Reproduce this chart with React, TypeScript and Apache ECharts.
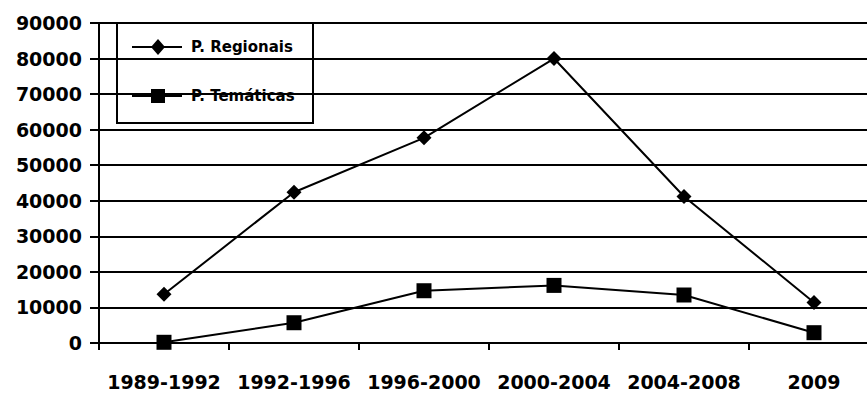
import React, { useEffect, useRef } from "react";
import * as echarts from "echarts";

// Periods on the horizontal axis
const periods = ["1989-1992", "1992-1996", "1996-2000", "2000-2004", "2004-2008", "2009"];
// Series names and values
const seriesNames = ["P. Regionais", "P. Temáticas"];
const regionais = [13700, 42400, 57700, 80000, 41200, 11400];
const tematicas = [200, 5700, 14700, 16200, 13500, 2900];
// Value axis range
const yMin = 0;
const yMax = 90000;
const yStep = 10000;

const FONT = "DejaVu Sans";

// Legend box drawn as graphic elements: a framed box with line + marker swatches
function buildLegend() {
  const boxX = 117;
  const boxY = 23;
  const lineX0 = 132;
  const lineX1 = 182;
  const markX = 158;
  const textX = 191;
  const rows = [47, 96];
  const textStyle = {
    fill: "#000000",
    font: `bold 15px "${FONT}"`,
    textVerticalAlign: "middle",
    verticalAlign: "middle",
  };
  const lineStyle = { stroke: "#000000", lineWidth: 2 };
  return {
    type: "group",
    z: 100,
    children: [
      {
        type: "rect",
        shape: { x: boxX, y: boxY, width: 196, height: 100 },
        style: { fill: "#ffffff", stroke: "#000000", lineWidth: 2 },
      },
      {
        type: "line",
        shape: { x1: lineX0, y1: rows[0], x2: lineX1, y2: rows[0] },
        style: lineStyle,
      },
      {
        type: "polygon",
        shape: {
          points: [
            [markX, rows[0] - 8],
            [markX + 7, rows[0]],
            [markX, rows[0] + 8],
            [markX - 7, rows[0]],
          ],
        },
        style: { fill: "#000000" },
      },
      {
        type: "text",
        x: textX,
        y: rows[0],
        style: { ...textStyle, text: seriesNames[0] },
      },
      {
        type: "line",
        shape: { x1: lineX0, y1: rows[1], x2: lineX1, y2: rows[1] },
        style: lineStyle,
      },
      {
        type: "rect",
        shape: { x: markX - 7, y: rows[1] - 7, width: 14, height: 14 },
        style: { fill: "#000000" },
      },
      {
        type: "text",
        x: textX,
        y: rows[1],
        style: { ...textStyle, text: seriesNames[1] },
      },
    ],
  };
}

export default function App() {
  const ref = useRef<HTMLDivElement>(null);

  useEffect(() => {
    if (!ref.current) return;
    const chart = echarts.init(ref.current, undefined, { renderer: "svg" });
    chart.setOption({
      animation: false,
      backgroundColor: "#ffffff",
      grid: {
        left: 99,
        top: 23,
        width: 780,
        height: 320,
        containLabel: false,
        outerBoundsMode: "none",
      },
      graphic: [buildLegend()],
      xAxis: {
        type: "category",
        data: periods,
        boundaryGap: true,
        axisLine: { show: true, lineStyle: { color: "#000000", width: 2 } },
        axisTick: { show: true, length: 7, lineStyle: { color: "#000000", width: 2 } },
        axisLabel: {
          fontFamily: FONT,
          fontWeight: "bold",
          fontSize: 19,
          color: "#000000",
          margin: 29,
          interval: 0,
        },
        splitLine: { show: false },
      },
      yAxis: {
        type: "value",
        min: yMin,
        max: yMax,
        interval: yStep,
        axisLine: { show: true, lineStyle: { color: "#000000", width: 2 } },
        axisTick: { show: true, length: 9, lineStyle: { color: "#000000", width: 2 } },
        axisLabel: {
          fontFamily: FONT,
          fontWeight: "bold",
          fontSize: 19,
          color: "#000000",
          margin: 17,
          formatter: (v: number) => String(v),
        },
        splitLine: { show: true, lineStyle: { color: "#000000", width: 2 } },
      },
      series: [
        {
          name: seriesNames[0],
          type: "line",
          data: regionais,
          symbol: "diamond",
          symbolSize: 15,
          lineStyle: { color: "#000000", width: 2 },
          itemStyle: { color: "#000000" },
        },
        {
          name: seriesNames[1],
          type: "line",
          data: tematicas,
          symbol: "rect",
          symbolSize: 15,
          lineStyle: { color: "#000000", width: 2 },
          itemStyle: { color: "#000000" },
        },
      ],
    });
    return () => chart.dispose();
  }, []);

  return (
    <div
      style={{
        position: "fixed",
        left: 0,
        top: 0,
        width: 867,
        height: 394,
        overflow: "hidden",
        background: "#ffffff",
      }}
    >
      <div ref={ref} style={{ width: 880, height: 394 }} />
    </div>
  );
}
